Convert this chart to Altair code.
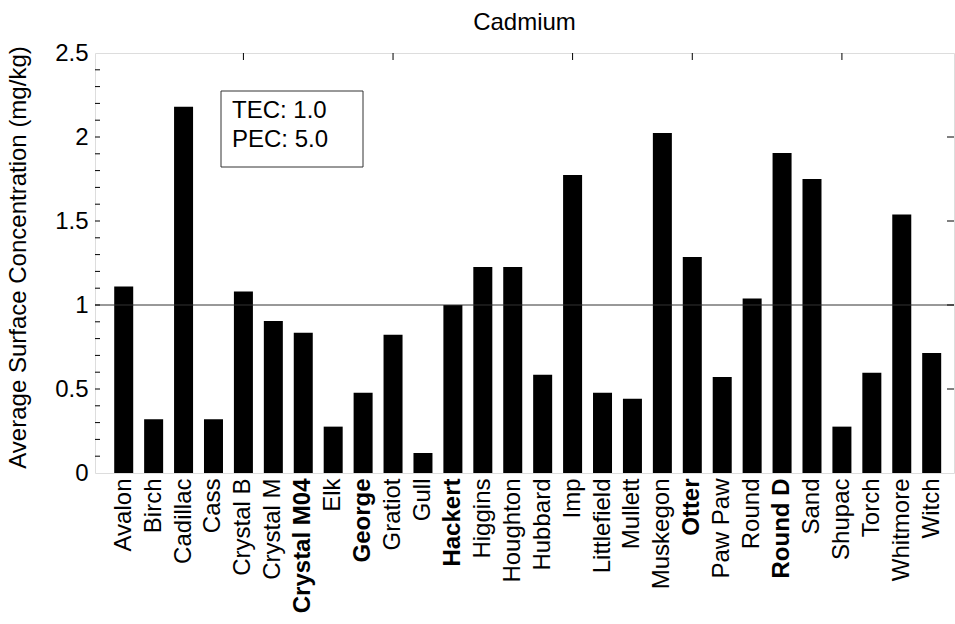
import json

import altair as alt
import pandas as pd

FONT = "Liberation Sans"

# Average surface cadmium concentration per lake site (mg/kg)
sites = [
    "Avalon", "Birch", "Cadillac", "Cass", "Crystal B", "Crystal M",
    "Crystal M04", "Elk", "George", "Gratiot", "Gull", "Hackert",
    "Higgins", "Houghton", "Hubbard", "Imp", "Littlefield", "Mullett",
    "Muskegon", "Otter", "Paw Paw", "Round", "Round D", "Sand",
    "Shupac", "Torch", "Whitmore", "Witch",
]
cadmium = [
    1.11, 0.32, 2.18, 0.32, 1.08, 0.905,
    0.835, 0.276, 0.478, 0.823, 0.119, 1.00,
    1.226, 1.226, 0.585, 1.774, 0.478, 0.442,
    2.024, 1.286, 0.571, 1.038, 1.905, 1.75,
    0.276, 0.597, 1.538, 0.714,
]
bold_sites = ["Crystal M04", "George", "Hackert", "Otter", "Round D"]
metal = "Cadmium"

# sediment quality guidelines
tec = 1.0
pec = 5.0

# axis ticks
y_labels = [0, 0.5, 1, 1.5, 2, 2.5]
y_left_ticks = [0.1, 0.2, 0.3, 0.4, 0.5, 0.6, 0.7, 0.8, 0.9, 1.0, 1.1, 1.2,
                1.3, 1.4, 1.5, 1.6, 1.7, 1.8, 1.9, 2.0, 2.1, 2.2, 2.3, 2.4]
y_right_ticks = [0.5, 1.0, 1.5, 2.0]
x_top_ticks = ["Crystal B", "Gratiot", "Imp", "Otter", "Shupac"]

W, H = 859, 420

df = pd.DataFrame({"site": sites, "cd": cadmium})

xscale = alt.Scale(domain=sites, paddingInner=0.365, paddingOuter=0.535, align=0.6)
yscale = alt.Scale(domain=[0, 2.5], nice=False, zero=True)

bold_test = "indexof(" + json.dumps(bold_sites) + ", datum.value) >= 0"

x_axis = alt.Axis(
    title=None, labelAngle=-90, labelAlign="right", labelBaseline="middle",
    labelFont=FONT, labelFontSize=24, labelColor="black",
    labelPadding=5, ticks=False, domain=False, grid=False,
    labelFontWeight={"condition": {"test": bold_test, "value": "bold"},
                     "value": "normal"},
)
y_axis = alt.Axis(
    values=y_labels, format="~g", title="Average Surface Concentration (mg/kg)",
    ticks=False, domain=False, grid=False,
    labelFont=FONT, labelFontSize=24, labelColor="black", labelPadding=7,
    titleFont=FONT, titleFontSize=24, titleFontWeight="normal",
    titleColor="black", titlePadding=24, titleY=204,
)

bars = alt.Chart(df).mark_bar(color="black").encode(
    x=alt.X("site:N", sort=sites, scale=xscale, axis=x_axis),
    y=alt.Y("cd:Q", scale=yscale, axis=y_axis),
)

tec_line = alt.Chart(pd.DataFrame({"tec": [tec]})).mark_rule(
    color="#333333", strokeWidth=1
).encode(y=alt.Y("tec:Q", scale=yscale, axis=y_axis))

left_ticks = alt.Chart(pd.DataFrame({"v": y_left_ticks})).mark_rule(
    color="black", strokeWidth=1
).encode(y=alt.Y("v:Q", scale=yscale, axis=y_axis), x=alt.value(0), x2=alt.value(5))

right_ticks = alt.Chart(pd.DataFrame({"v": y_right_ticks})).mark_rule(
    color="black", strokeWidth=1
).encode(y=alt.Y("v:Q", scale=yscale, axis=y_axis), x=alt.value(W - 7), x2=alt.value(W))

top_ticks = alt.Chart(pd.DataFrame({"site": x_top_ticks})).mark_rule(
    color="black", strokeWidth=1
).encode(x=alt.X("site:N", sort=sites, scale=xscale, axis=x_axis),
         y=alt.value(0), y2=alt.value(7))

note = pd.DataFrame({"lines": [[f"TEC: {tec:.1f}", f"PEC: {pec:.1f}"]]})

note_box = alt.Chart(note).mark_rect(
    fill="white", stroke="#333333", strokeWidth=1
).encode(x=alt.value(126), x2=alt.value(268), y=alt.value(38), y2=alt.value(114))

note_text = alt.Chart(note).mark_text(
    align="left", baseline="alphabetic", font=FONT, fontSize=24,
    color="black", lineHeight=29,
).encode(x=alt.value(137), y=alt.value(65), text="lines")

# chart heading, centred above the plot frame
heading = alt.Chart(pd.DataFrame({"t": [metal]})).mark_text(
    align="center", baseline="alphabetic", font=FONT, fontSize=24,
    color="black", clip=False,
).encode(x=alt.value(W / 2), y=alt.value(-23), text="t:N")

chart = alt.layer(
    bars, tec_line, left_ticks, right_ticks, top_ticks, note_box, note_text, heading
).properties(
    width=W, height=H,
    autosize=alt.AutoSizeParams(type="none"),
    padding={"left": 95, "top": 53, "right": 1, "bottom": 151},
).configure_view(stroke="black", strokeWidth=1).configure(background="white")

chart.save("out.html", embed_options={"renderer": "svg", "actions": False})
